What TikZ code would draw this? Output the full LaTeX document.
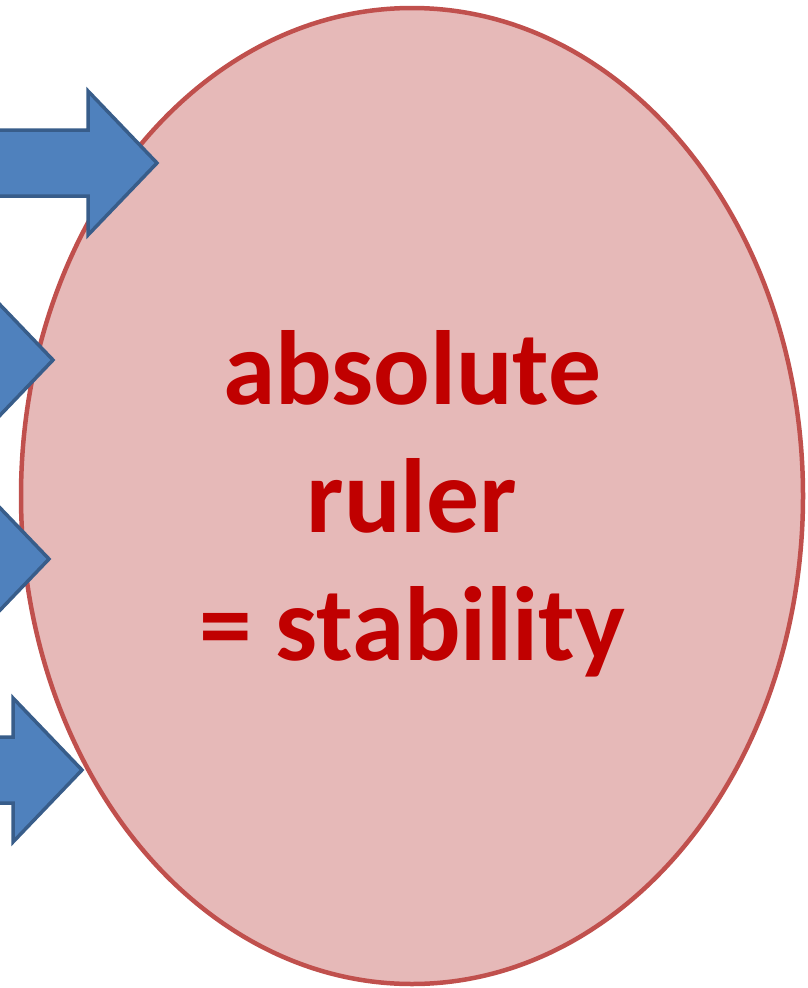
\documentclass[tikz,border=0pt]{standalone}
\usepackage{fontspec}
\setmainfont{Carlito}
\usepackage{tikz}
\usetikzlibrary{positioning,calc,shapes.geometric}
\definecolor{cPinkF}{HTML}{E6B9B8}
\definecolor{cPinkD}{HTML}{C0504D}
\definecolor{cBlueF}{HTML}{4F81BD}
\definecolor{cBlueD}{HTML}{385D8A}
\definecolor{cRedT}{HTML}{C00000}
\tikzset{
  oval/.style   = {ellipse, draw=cPinkD, fill=cPinkF, line width=4.5pt,
                   minimum width=782pt, minimum height=976pt, inner sep=0pt},
  bigtext/.style= {text=cRedT, align=center, inner sep=0pt,
                   font=\fontsize{105.5}{128}\selectfont\bfseries},
  blockarrow/.pic = {
    \draw[draw=cBlueD, fill=cBlueF, line width=3.5pt, line join=miter]
      (0,0) -- (-69,72) -- (-69,33) -- (-260,33) -- (-260,-33)
      -- (-69,-33) -- (-69,-72) -- cycle;
  },
}
\begin{document}
\begin{tikzpicture}[x=1pt, y=-1pt]
  \clip (0,0) rectangle (807,988);
  \node[oval] (ruler) at (412,496) {};
  \node[bigtext, below=8pt of ruler.center, anchor=center] (rulertext)
    {absolute\\ruler\\= stability};
  % arrows pointing into the oval
  \foreach \tx/\ty in {157/163, 53/360, 49/559, 82/770}
    \path (\tx,\ty) pic{blockarrow};
\end{tikzpicture}
\end{document}
